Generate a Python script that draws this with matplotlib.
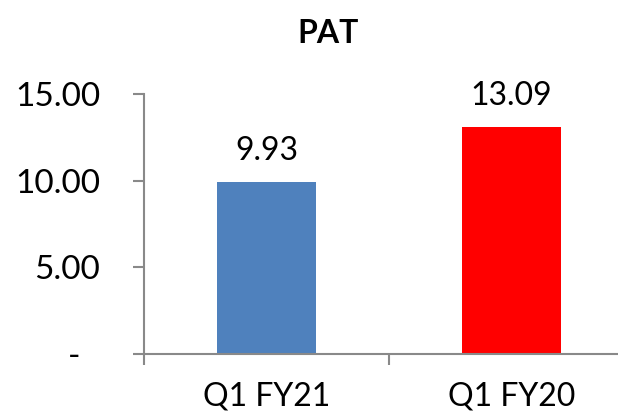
import matplotlib
matplotlib.use("Agg")
import matplotlib.pyplot as plt

categories = ["Q1 FY21", "Q1 FY20"]
values = [9.93, 13.09]
colors = ["#4F81BD", "#FF0000"]
y_ticks = [0, 5, 10, 15]
y_tick_labels = ["-\u2007", "5.00", "10.00", "15.00"]
title = "PAT"

plt.rcParams["font.family"] = ["Lato", "DejaVu Sans"]

W, H = 618, 416
PT = 72 / 100  # points per pixel at 100 dpi
fig = plt.figure(figsize=(W / 100, H / 100), dpi=100)
left, right = 144, 634
bottom, top = 354, 94
ax = fig.add_axes([left / W, 1 - bottom / H, (right - left) / W, (bottom - top) / H])

x = range(len(categories))
ax.bar(x, values, width=0.404, color=colors)
ax.set_xlim(-0.5, len(categories) - 0.5)
ax.set_ylim(0, 15)

for xi, v in zip(x, values):
    ax.annotate(f"{v:.2f}", xy=(xi, v), xytext=(0, 22 * PT), textcoords="offset points",
                ha="center", va="baseline", fontsize=23)

for xi, c in zip(x, categories):
    ax.annotate(c, xy=(xi, 0), xytext=(0, -52 * PT), textcoords="offset points",
                ha="center", va="baseline", fontsize=23, annotation_clip=False)

ax.set_yticks(y_ticks)
ax.set_yticklabels(y_tick_labels, fontsize=24)
ax.set_xticks([])
ax.set_xticks([-0.5, 0.5, 1.5], minor=True)
ax.tick_params(axis="x", which="minor", length=11 * PT, width=1.5, color="#898989", direction="out")
ax.tick_params(axis="y", length=11 * PT, width=1.5, color="#898989", direction="out", pad=33 * PT)

for s in ["top", "right"]:
    ax.spines[s].set_visible(False)
for s in ["left", "bottom"]:
    ax.spines[s].set_color("#898989")
    ax.spines[s].set_linewidth(1.5)

fig.text(328 / W, 1 - 43 / H, title, ha="center", va="baseline", fontsize=23, fontweight="bold")

fig.savefig("out.png", dpi=100)
